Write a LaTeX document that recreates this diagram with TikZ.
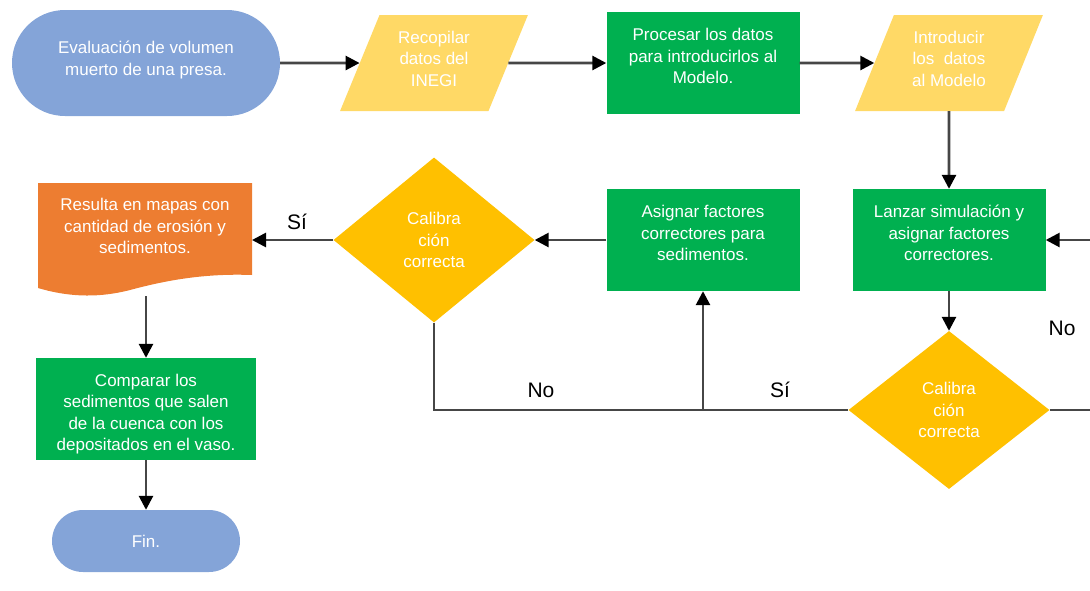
\documentclass[tikz,border=0pt]{standalone}
\usepackage{fontspec}
\setmainfont{Liberation Sans}
\usetikzlibrary{arrows.meta,positioning,shapes.geometric}
\definecolor{termblue}{RGB}{132,164,216}
\definecolor{datayellow}{RGB}{255,217,102}
\definecolor{procgreen}{RGB}{0,176,80}
\definecolor{docorange}{RGB}{237,125,49}
\definecolor{decgold}{RGB}{255,192,0}
\definecolor{flowgray}{RGB}{70,70,70}

\begin{document}
\begin{tikzpicture}[x=1pt, y=1pt,
  every node/.style={font=\fontsize{17}{21.5}\selectfont, text=white, align=center},
  termbox/.style={fill=termblue, inner sep=0pt},
  databox/.style={trapezium, trapezium left angle=68, trapezium right angle=112,
    trapezium stretches=true, fill=datayellow, minimum width=188pt,
    minimum height=96pt, inner sep=0pt, text depth=9pt},
  procbox/.style={fill=procgreen, minimum width=193pt, minimum height=102pt,
    inner sep=0pt, text depth=14pt},
  decbox/.style={diamond, fill=decgold, minimum width=201pt, inner sep=0pt},
  flowline/.style={draw=flowgray, line width=2.7pt},
  flow/.style={flowline, -{Triangle[length=14pt, width=14pt, black]}},
  yesno/.style={text=black, font=\fontsize{21}{25}\selectfont}]
\useasboundingbox (0,0) rectangle (1090,-590);
% document shape behind its text
\fill[docorange] (38,-183) -- (252,-183) -- (252,-275)
  .. controls (200,-273) and (160,-282) .. (130,-290)
  .. controls (95,-299) and (65,-296) .. (38,-288) -- cycle;
% top row
\node[termbox, rounded corners=53pt, minimum width=268pt, minimum height=106pt,
  text depth=10pt] (eval) at (146,-63) {Evaluación de volumen\\muerto de una presa.};
\node[databox] (inegi) at (434,-63) {Recopilar\\datos del\\INEGI};
\node[procbox] (proc) at (703,-63) {Procesar los datos\\para introducirlos al\\Modelo.};
\node[databox] (intro) at (949,-63) {Introducir\\los\ \ datos\\al Modelo};
% middle row
\node[procbox] (lanzar) at (949,-240) {Lanzar simulación y\\asignar factores\\correctores.};
\node[procbox] (asig) at (703,-240) {Asignar factores\\correctores para\\sedimentos.};
\node[decbox, minimum height=165pt] (cal1) at (434,-240) {Calibra\\ción\\correcta};
\node (res) at (145,-226) {Resulta en mapas con\\cantidad de erosión y\\sedimentos.};
\coordinate (resin) at (252,-240);
\coordinate (resout) at (146,-296);
% bottom
\node[decbox, minimum height=158pt] (cal2) at (949,-410) {Calibra\\ción\\correcta};
\node[procbox, minimum width=220pt, text depth=4pt, text height=87pt] (comp) at (146,-409)
  {Comparar los\\sedimentos que salen\\de la cuenca con los\\depositados en el vaso.};
\node[termbox, rounded corners=31pt, minimum width=188pt, minimum height=62pt]
  (fin) at (146,-541) {Fin.};
% connectors
\draw[flow] (eval) -- (inegi);
\draw[flow] (inegi) -- (proc);
\draw[flow] (proc) -- (intro);
\draw[flow] (intro) -- (lanzar);
\draw[flow] (lanzar) -- (cal2);
\draw[flow] (cal2.east) -- ++(70,0) |- (lanzar.east);
\draw[flowline] (cal1.south) |- (cal2.west);
\draw[flow] (asig.south |- cal2.west) -- (asig.south);
\draw[flow] (asig) -- (cal1);
\draw[flow] (cal1.west) -- (resin);
\draw[flow] (resout) -- (comp);
\draw[flow] (comp) -- (fin);
% branch labels
\node[yesno] (si1) at (297,-222) {Sí};
\node[yesno] (no1) at (541,-390) {No};
\node[yesno] (si2) at (780,-390) {Sí};
\node[yesno] (no2) at (1062,-328) {No};
\end{tikzpicture}
\end{document}
